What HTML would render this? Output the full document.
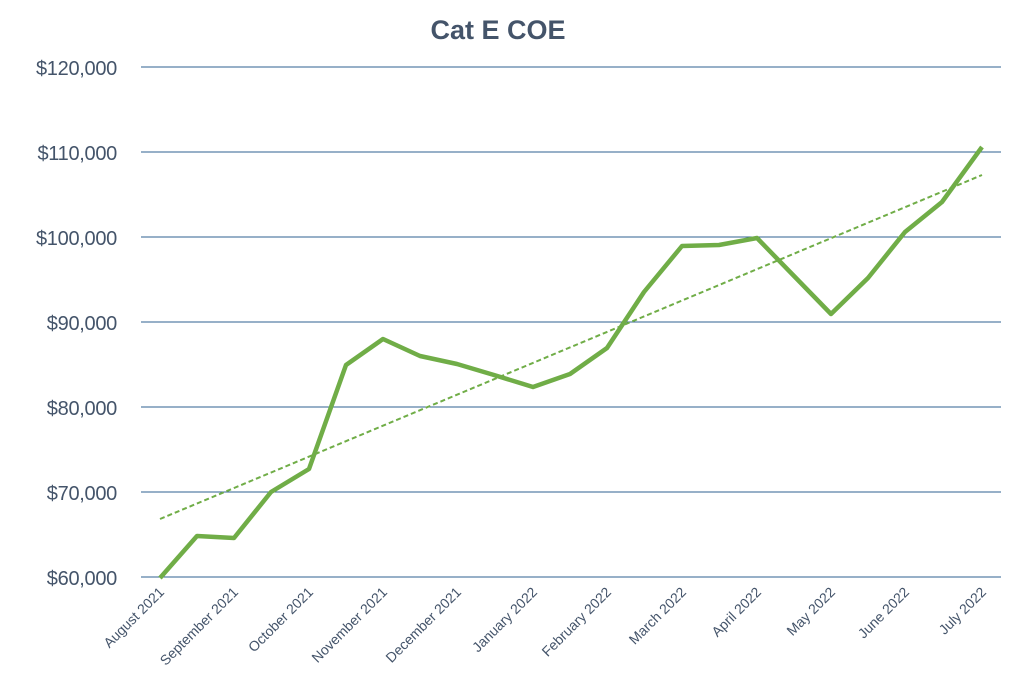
<!DOCTYPE html>
<html><head><meta charset="utf-8"><style>body{margin:0;background:#fff}svg{display:block}</style></head><body>
<svg width="1024" height="683" viewBox="0 0 1024 683" font-family="Liberation Sans, sans-serif">
<rect width="1024" height="683" fill="#fff"/>
<text x="498" y="39" text-anchor="middle" font-size="27" font-weight="bold" fill="#44546a">Cat E COE</text>
<g stroke="#2f6090" stroke-width="1">
<line x1="141" y1="67" x2="1001" y2="67"/><line x1="141" y1="152" x2="1001" y2="152"/><line x1="141" y1="237" x2="1001" y2="237"/><line x1="141" y1="322" x2="1001" y2="322"/><line x1="141" y1="407" x2="1001" y2="407"/><line x1="141" y1="492" x2="1001" y2="492"/><line x1="141" y1="577" x2="1001" y2="577"/>
</g>
<g font-size="20" fill="#44546a" text-anchor="end" letter-spacing="-0.3">
<text x="117" y="75">$120,000</text><text x="117" y="160">$110,000</text><text x="117" y="245">$100,000</text><text x="117" y="330">$90,000</text><text x="117" y="415">$80,000</text><text x="117" y="500">$70,000</text><text x="117" y="585">$60,000</text>
</g>
<line x1="160" y1="519" x2="982" y2="175" stroke="#70ad47" stroke-width="2" stroke-dasharray="5,3"/>
<polyline fill="none" stroke="#70ad47" stroke-width="4.5" stroke-linejoin="round" points="160,578 197,536 234,538 271,492 309,469 346,365 383,339 420,356 457,364 494,375 533,387 570,374 607,348 644,292 682,246 719,245 757,238 794,276 831,314 868,278 905,232 942,202 982,147"/>
<g font-size="14" fill="#44546a" text-anchor="end">
<text transform="translate(165,593) rotate(-45)">August 2021</text>
<text transform="translate(239,593) rotate(-45)">September 2021</text>
<text transform="translate(314,593) rotate(-45)">October 2021</text>
<text transform="translate(388,593) rotate(-45)">November 2021</text>
<text transform="translate(462,593) rotate(-45)">December 2021</text>
<text transform="translate(538,593) rotate(-45)">January 2022</text>
<text transform="translate(612,593) rotate(-45)">February 2022</text>
<text transform="translate(687,593) rotate(-45)">March 2022</text>
<text transform="translate(762,593) rotate(-45)">April 2022</text>
<text transform="translate(836,593) rotate(-45)">May 2022</text>
<text transform="translate(910,593) rotate(-45)">June 2022</text>
<text transform="translate(987,593) rotate(-45)">July 2022</text>
</g>
</svg>
</body></html>
